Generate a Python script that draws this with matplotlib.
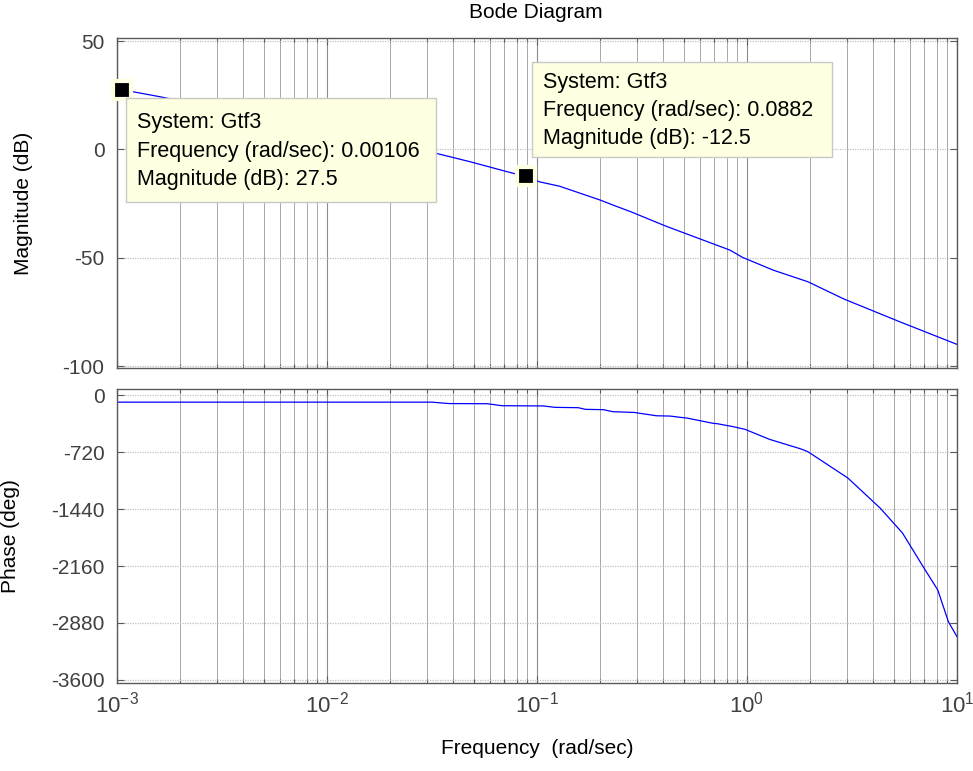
import matplotlib
matplotlib.use("Agg")
import matplotlib.pyplot as plt
from matplotlib.patches import Rectangle
from matplotlib.ticker import LogLocator, NullFormatter, FixedLocator
import numpy as np

plt.rcParams['font.family'] = ['Liberation Sans', 'DejaVu Sans']
plt.rcParams['mathtext.fontset'] = 'custom'
plt.rcParams['mathtext.rm'] = 'Liberation Sans'
plt.rcParams['mathtext.it'] = 'Liberation Sans'

# ---- data ----
mag_freq = [0.001, 0.00106, 0.0016, 0.033, 0.048, 0.072, 0.0882, 0.103, 0.128,
            0.2, 0.23, 0.28, 0.41, 0.83, 0.95, 1.33, 1.95, 2.9, 5.35, 10.0]
mag_db = [28.0, 27.5, 24.3, -1.8, -5.7, -10.3, -12.5, -15.0, -17.0,
          -23.4, -25.7, -28.8, -35.4, -46.5, -49.8, -55.7, -61.1, -69.1, -79.6, -90.0]

ph_freq = [0.001, 0.0315, 0.038, 0.058, 0.068, 0.107, 0.122, 0.157, 0.17, 0.207,
           0.23, 0.29, 0.37, 0.43, 0.5, 0.52, 0.69, 0.72, 0.86, 0.98, 1.28, 1.8,
           1.95, 3.02, 4.3, 5.5, 6.9, 8.1, 9.1, 10.0]
ph_deg = [-90, -90, -108, -110, -135, -138, -156, -160, -181, -185,
          -211, -220, -262, -266, -287, -292, -358, -362, -400, -434, -560, -680,
          -716, -1048, -1427, -1743, -2169, -2463, -2864, -3053]

mag_ticks = [-100, -50, 0, 50]
ph_ticks = [-3600, -2880, -2160, -1440, -720, 0]

tips = [
    {"freq": 0.00106, "mag": 27.5, "lines": ["System: Gtf3", "Frequency (rad/sec): 0.00106", "Magnitude (dB): 27.5"]},
    {"freq": 0.0882, "mag": -12.5, "lines": ["System: Gtf3", "Frequency (rad/sec): 0.0882", "Magnitude (dB): -12.5"]},
]
tip_boxes_px = [(126, 98, 436, 202), (532, 62, 832, 157)]  # left, top, right, bottom in pixels

W, H = 973, 771
fig = plt.figure(figsize=(W / 100, H / 100), dpi=100)

def fx(x):
    return x / W

def fy(y):
    return 1 - y / H

ax1 = fig.add_axes([fx(117), fy(368), fx(957) - fx(117), fy(38) - fy(368)])
ax2 = fig.add_axes([fx(117), fy(683), fx(957) - fx(117), fy(389) - fy(683)])

frame_col = '#5a5a5a'
tick_col = '#404040'
grid_col = '#a8a8a8'
FS = 15

for ax in (ax1, ax2):
    ax.set_xscale('log')
    ax.set_xlim(1e-3, 1e1)
    ax.xaxis.set_major_locator(LogLocator(base=10, numticks=10))
    ax.xaxis.set_minor_locator(LogLocator(base=10, subs=np.arange(2, 10), numticks=100))
    ax.xaxis.set_minor_formatter(NullFormatter())
    ax.grid(True, which='major', axis='x', color='#8c8c8c', linewidth=0.8, linestyle='-')
    ax.grid(True, which='minor', axis='x', color=grid_col, linewidth=0.7, linestyle='-')
    ax.grid(True, which='major', axis='y', color='#c0c0c0', linewidth=0.9, linestyle=(0, (1, 1)))
    ax.tick_params(which='both', direction='in', top=True, right=True, colors=frame_col,
                   labelcolor=tick_col, labelsize=FS)
    ax.tick_params(which='major', length=5, width=0.8)
    ax.tick_params(which='minor', length=3, width=0.8)
    ax.tick_params(axis='y', pad=9)
    for sp in ax.spines.values():
        sp.set_color(frame_col)
        sp.set_linewidth(1.0)
    ax.set_axisbelow(True)

ax1.plot(mag_freq, mag_db, color='#0000ff', linewidth=0.9)
ax1.set_ylim(-100.9, 51.4)
ax1.yaxis.set_major_locator(FixedLocator(mag_ticks))
ax1.set_yticklabels([str(t) for t in mag_ticks])
ax1.tick_params(axis='x', labelbottom=False)
ax1.set_ylabel('Magnitude (dB)', fontsize=FS)
ax1.yaxis.set_label_coords((33 - 117) / 840, 0.5)
fig.text(fx(536), fy(12), 'Bode Diagram', fontsize=FS, ha='center', va='center')

ax2.plot(ph_freq, ph_deg, color='#0000ff', linewidth=0.9)
ax2.set_ylim(-3638, 76)
ax2.yaxis.set_major_locator(FixedLocator(ph_ticks))
ax2.set_yticklabels([str(t) for t in ph_ticks])
ax2.set_ylabel('Phase (deg)', fontsize=FS)
ax2.yaxis.set_label_coords((20 - 117) / 840, 0.5)
ax2.set_xlabel('Frequency  (rad/sec)', fontsize=FS, labelpad=16)
ax2.tick_params(axis='x', pad=6, labelsize=16)

# data tips
for tip, (l, t, r, b) in zip(tips, tip_boxes_px):
    ax1.plot([tip["freq"]], [tip["mag"]], marker='s', markersize=13, markerfacecolor='black',
             markeredgecolor='#ffffe1', markeredgewidth=3, clip_on=False, zorder=10)
    rect = Rectangle((fx(l), fy(b)), fx(r) - fx(l), fy(t) - fy(b), transform=fig.transFigure,
                     facecolor='#ffffe1', edgecolor='#c8c8c8', linewidth=1.0, zorder=5)
    fig.add_artist(rect)
    txt = "\n".join(tip["lines"])
    fig.text(fx(l + 11), fy((t + b) / 2 + 1), txt, fontsize=15.5, va='center', ha='left',
             linespacing=1.45, color='black', zorder=6)

fig.savefig('out.png', dpi=100)
